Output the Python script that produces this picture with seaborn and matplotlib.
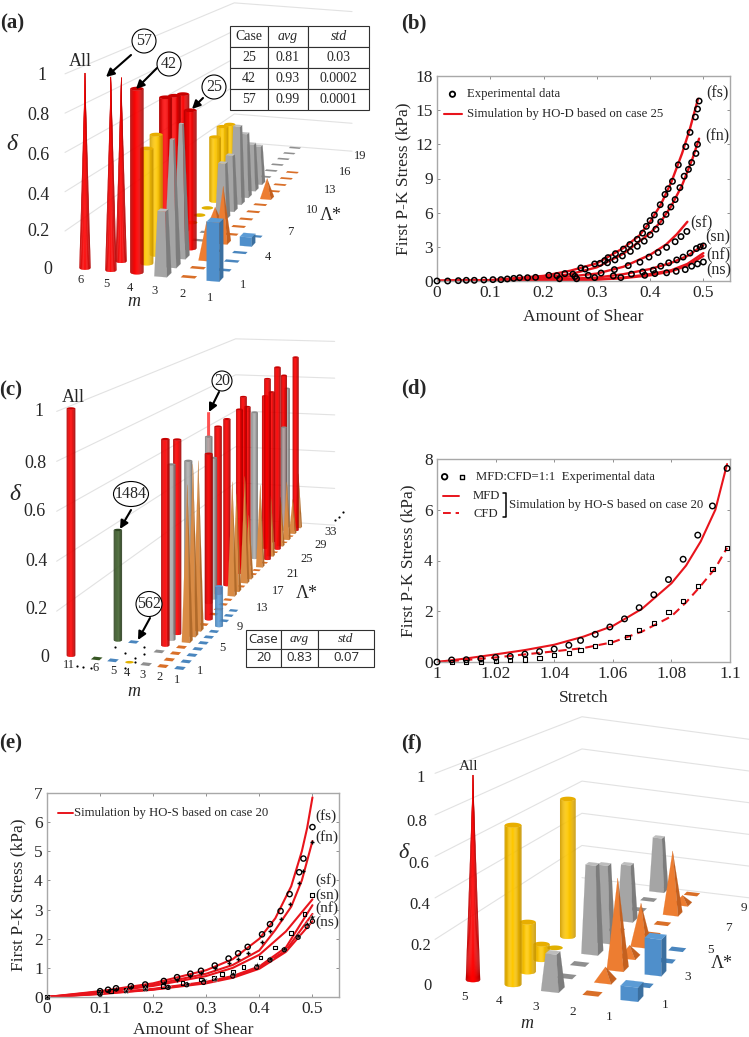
import numpy as np
import pandas as pd
import matplotlib
matplotlib.use('Agg')
import matplotlib.pyplot as plt
from matplotlib.patches import Ellipse
import seaborn as sns

sns.set_theme(style='white')
plt.rcParams['font.family'] = ['Liberation Serif', 'DejaVu Serif']
plt.rcParams['mathtext.fontset'] = 'stix'

W, H = 749, 1037
RED = '#e8141c'

# ---- panel (a) bars: m, lambda, delta, kind
a_m = [6, 5, 5, 4, 4, 4, 4, 4, 4, 4, 4, 4, 4, 4, 4,
       3, 3, 3, 3, 3, 3, 3, 3, 3, 3, 3, 3, 3, 3, 3, 3, 3, 3, 3,
       2, 2, 2, 2, 2, 2, 2, 2, 2, 2, 2, 2, 2, 2, 2, 1, 1, 1, 1, 1, 1]
a_lam = [1, 1, 2, 1, 2, 3, 4, 5, 6, 7, 8, 9, 10, 11, 12,
         1, 2, 3, 4, 5, 6, 7, 8, 9, 10, 11, 12, 13, 14, 15, 16, 17, 18, 19,
         1, 2, 3, 4, 5, 6, 7, 8, 9, 10, 11, 12, 13, 14, 15, 1, 2, 3, 4, 5, 6]
a_delta = [1.0, 0.99, 0.96, 0.94, 0.6, 0.64, 0.81, 0.79, 0.77, 0, 0, 0, 0.39, 0.42, 0.4,
           0.33, 0.66, 0.71, 0.75, 0, 0, 0.1, 0.32, 0.33, 0.47, 0.39, 0.29, 0.24, 0, 0, 0, 0, 0, 0,
           0, 0, 0.2, 0, 0.31, 0, 0, 0, 0, 0, 0.12, 0, 0, 0, 0, 0.3, 0, 0, 0, 0.05, 0]
a_kind = ['rc', 'rc', 'rc', 'r', 'y', 'y', 'r', 'r', 'r', 'y', 'y', 'y', 'y', 'y', 'y',
          'g', 'gs', 'gs', 'r', 'g', 'g', 'o', 'g', 'g', 'g', 'g', 'g', 'g', 'g', 'g', 'g', 'g', 'g', 'g',
          'o', 'o', 'o', 'o', 'o', 'o', 'o', 'o', 'o', 'o', 'o', 'o', 'o', 'o', 'o', 'b', 'b', 'b', 'b', 'b', 'b']

# ---- panel (c) bars
c_m = [7.6, 6, 6, 5, 5, 4,
       3, 3, 3, 3, 3, 3, 3, 3, 3, 3, 3, 3, 3, 3, 3, 3, 3, 3, 3, 3,
       2, 2, 2, 2, 2, 2, 2, 2, 2, 2, 2, 2, 2, 2, 2, 2, 2, 2, 2, 2, 2, 2, 2, 2, 2, 2, 2, 2, 2, 2, 2, 2, 2,
       1, 1, 1, 1, 1, 1, 1, 1, 1, 1, 1]
c_lam = [1, 1, 4, 1, 4, 1,
         1, 3, 4, 5, 6, 8, 12, 12, 13, 14, 16, 19, 20, 21, 23, 26, 28, 32, 32, 33,
         1, 2, 3, 4, 5, 6, 7, 8, 9, 10, 11, 12, 13, 14, 15, 16, 17, 18, 19, 20, 21, 22, 23, 24, 25, 26, 27, 28, 29, 30, 31, 32, 33,
         1, 2, 3, 4, 5, 6, 7, 8, 9, 10, 11]
c_delta = [1.0, 0, 0.46, 0, 0, 0,
           0, 0, 0.85, 0.73, 0.82, 0.7, 0.86, 0.75, 0.64, 0.77, 0.78, 0.79, 0.84, 0.78, 0.73, 0.78, 0.78, 0.83, 0.55, 0.75,
           0, 0, 0, 0, 0.65, 0.72, 0.72, 0, 0.72, 0, 0, 0, 0, 0.52, 0.45, 0, 0.5, 0.3, 0, 0, 0.4, 0, 0.9, 0.3, 0, 0.93, 0.25, 0,
           0.3, 0, 0.18, 0.93, 0.29,
           0, 0, 0, 0, 0, 0, 0, 0.17, 0, 0, 0]
c_kind = ['r', 'k', 'k', 'b', 'b', 'y',
          'g', 'g', 'r', 'gc', 'r', 'gc', 'rt', 'gc', 'gc', 'r', 'r', 'r', 'r', 'r', 'gc', 'r', 'r', 'r', 'gc', 'gc',
          'o', 'o', 'o', 'o', 'o', 'o', 'o', 'o', 'r', 'o', 'o', 'o', 'o', 'o', 'o', 'o', 'o', 'o', 'o', 'o', 'o', 'o', 'r', 'o', 'o', 'r', 'o', 'o',
          'o', 'o', 'o', 'r', 'o',
          'b', 'b', 'b', 'b', 'b', 'b', 'b', 'bc', 'b', 'b', 'b']

# ---- panel (f) bars
f_m = [5, 4, 4, 4, 4, 4, 3, 3, 3, 3, 3, 3, 3, 3, 3, 3, 2, 2, 2, 2, 2, 2, 2, 2, 2, 2, 1, 1, 1, 1, 1]
f_lam = [1, 1, 2, 3, 4, 5, 1, 2, 3, 4, 5, 6, 7, 8, 9, 10, 1, 2, 3, 4, 5, 6, 7, 8, 9, 10, 1, 2, 3, 4, 5]
f_delta = [1.0, 0.78, 0.25, 0.08, 0, 0.75, 0.18, 0, 0, 0.47, 0.42, 0, 0.32, 0, 0, 0.33,
           0, 0.07, 0.47, 0.06, 0.23, 0, 0, 0.37, 0.05, 0, 0.07, 0, 0.19, 0, 0]
f_kind = ['rc', 'y', 'y', 'y', 'y', 'y', 'g', 'g', 'g', 'g', 'g', 'g', 'g', 'g', 'g', 'g',
          'o', 'o', 'o', 'o', 'o', 'o', 'o', 'o', 'o', 'o', 'b', 'b', 'b', 'b', 'b']

# ---- panel (b)
b_fs_x = [0, 0.1, 0.2, 0.25, 0.3, 0.35, 0.38, 0.4, 0.42, 0.44, 0.46, 0.475, 0.49]
b_fs_y = [0, 0.08, 0.45, 0.9, 1.55, 2.9, 4.0, 5.2, 6.7, 8.7, 11.2, 13.4, 16.0]
b_fn_x = [0, 0.1, 0.2, 0.25, 0.3, 0.35, 0.4, 0.42, 0.44, 0.46, 0.48, 0.492]
b_fn_y = [0, 0.05, 0.3, 0.6, 1.2, 2.4, 4.2, 5.2, 6.6, 8.4, 10.8, 12.5]
b_sf_x = [0, 0.1, 0.2, 0.3, 0.35, 0.4, 0.43, 0.45, 0.47]
b_sf_y = [0, 0.03, 0.15, 0.65, 1.25, 2.3, 3.2, 4.1, 5.2]
b_sn_x = [0, 0.2, 0.3, 0.35, 0.4, 0.44, 0.47, 0.5]
b_sn_y = [0, 0.1, 0.3, 0.6, 1.05, 1.6, 2.2, 3.15]
b_nf_x = [0, 0.2, 0.3, 0.35, 0.4, 0.44, 0.47, 0.5]
b_nf_y = [0, 0.05, 0.15, 0.3, 0.6, 0.95, 1.5, 2.45]
b_ns_x = [0, 0.2, 0.3, 0.35, 0.4, 0.44, 0.47, 0.5]
b_ns_y = [0, 0.04, 0.12, 0.25, 0.5, 0.85, 1.35, 2.2]

b_exp_x = [0, 0.02, 0.04, 0.055, 0.07, 0.088, 0.105, 0.12, 0.132, 0.144, 0.155, 0.17, 0.185, 0.21, 0.225, 0.24, 0.255,
           0.296, 0.306, 0.315, 0.321, 0.335, 0.35, 0.362, 0.376, 0.386, 0.393, 0.4, 0.408, 0.419, 0.428, 0.434, 0.442,
           0.453, 0.467, 0.475, 0.485, 0.489, 0.492,
           0.278, 0.27, 0.32, 0.334, 0.348, 0.363, 0.376, 0.389, 0.4, 0.411, 0.42, 0.43, 0.439, 0.447, 0.456, 0.464,
           0.472, 0.478, 0.486, 0.489,
           0.469, 0.458, 0.447, 0.431, 0.415, 0.398, 0.381, 0.359, 0.333, 0.308, 0.284, 0.259,
           0.5, 0.494, 0.487, 0.475, 0.462, 0.45, 0.435, 0.42, 0.406, 0.386, 0.365, 0.331, 0.296, 0.262, 0.23,
           0.5, 0.489, 0.478, 0.466, 0.449, 0.431, 0.409, 0.39, 0.345]
b_exp_y = [0, 0, 0.03, 0.06, 0.06, 0.09, 0.12, 0.12, 0.18, 0.23, 0.29, 0.29, 0.32, 0.5, 0.47, 0.65, 0.6,
           1.5, 1.55, 1.8, 2.05, 2.4, 2.8, 3.2, 3.66, 4.2, 4.8, 5.3, 5.8, 6.7, 7.6, 8.1, 8.75,
           10.2, 11.8, 13.05, 14.4, 15.1, 15.8,
           1.05, 1.15, 1.6, 1.85, 2.2, 2.6, 3.05, 3.5, 4.05, 4.55, 5.2, 5.85, 6.5, 7.15, 8.2, 9.2,
           9.8, 10.4, 11.2, 12.0,
           4.35, 3.9, 3.45, 2.95, 2.5, 2.1, 1.65, 1.35, 1.0, 0.7, 0.5, 0.4,
           3.08, 3.0, 2.85, 2.45, 2.1, 1.85, 1.6, 1.3, 0.95, 0.8, 0.6, 0.45, 0.3, 0.2, 0.2,
           1.67, 1.5, 1.3, 1.0, 0.85, 0.72, 0.65, 0.5, 0.3]

# ---- panel (d)
d_mfd_x = [1, 1.01, 1.02, 1.03, 1.04, 1.05, 1.06, 1.07, 1.08, 1.085, 1.09, 1.095, 1.099]
d_mfd_y = [0, 0.14, 0.3, 0.47, 0.68, 1.0, 1.42, 2.1, 3.1, 3.8, 4.75, 6.0, 7.8]
d_cfd_x = [1, 1.01, 1.02, 1.03, 1.04, 1.05, 1.06, 1.07, 1.08, 1.085, 1.09, 1.095, 1.099]
d_cfd_y = [0, 0.08, 0.18, 0.3, 0.42, 0.55, 0.78, 1.2, 1.8, 2.35, 3.0, 3.7, 4.5]
d_mexp_x = [1, 1.005, 1.01, 1.015, 1.02, 1.025, 1.03, 1.035, 1.04, 1.045, 1.049, 1.054, 1.059, 1.064, 1.069,
            1.074, 1.079, 1.084, 1.089, 1.094, 1.099]
d_mexp_y = [0, 0.08, 0.09, 0.13, 0.18, 0.22, 0.31, 0.41, 0.51, 0.66, 0.85, 1.09, 1.38, 1.7, 2.14,
            2.65, 3.25, 4.05, 5.0, 6.15, 7.63]
d_cexp_x = [1.005, 1.01, 1.015, 1.02, 1.025, 1.03, 1.035, 1.04, 1.045, 1.049, 1.054, 1.059, 1.065, 1.069,
            1.074, 1.079, 1.084, 1.089, 1.094, 1.099]
d_cexp_y = [0, 0, 0, 0.05, 0.07, 0.1, 0.15, 0.26, 0.35, 0.48, 0.62, 0.8, 1.0, 1.26,
            1.55, 1.98, 2.42, 2.98, 3.65, 4.48]

# ---- panel (e)
e_fs_x = [0, 0.1, 0.2, 0.3, 0.35, 0.4, 0.43, 0.46, 0.48, 0.49, 0.5]
e_fs_y = [0, 0.2, 0.47, 0.92, 1.3, 2.0, 2.7, 3.8, 5.0, 5.8, 6.85]
e_fn_x = [0, 0.1, 0.2, 0.3, 0.35, 0.4, 0.43, 0.46, 0.48, 0.5]
e_fn_y = [0, 0.18, 0.42, 0.8, 1.1, 1.6, 2.3, 3.1, 4.0, 5.35]
e_sf_x = [0, 0.1, 0.2, 0.3, 0.35, 0.4, 0.45, 0.5]
e_sf_y = [0, 0.15, 0.38, 0.72, 1.0, 1.45, 2.25, 3.35]
e_sn_x = [0, 0.1, 0.2, 0.3, 0.35, 0.4, 0.45, 0.5]
e_sn_y = [0, 0.12, 0.28, 0.52, 0.72, 1.05, 1.7, 3.15]
e_nf_x = [0, 0.1, 0.2, 0.3, 0.35, 0.4, 0.45, 0.5]
e_nf_y = [0, 0.11, 0.26, 0.5, 0.7, 1.02, 1.6, 2.85]
e_ns_x = [0, 0.1, 0.2, 0.3, 0.35, 0.4, 0.45, 0.5]
e_ns_y = [0, 0.1, 0.25, 0.47, 0.66, 0.97, 1.55, 2.6]

e_c_x = [0.1, 0.115, 0.13, 0.158, 0.185, 0.22, 0.245, 0.27, 0.29, 0.316, 0.342, 0.36, 0.378, 0.405, 0.42, 0.44,
         0.457, 0.475, 0.483, 0.5]
e_c_y = [0.2, 0.25, 0.3, 0.37, 0.43, 0.55, 0.68, 0.8, 0.9, 1.08, 1.32, 1.5, 1.72, 2.15, 2.5, 2.95,
         3.53, 4.28, 4.75, 5.83]
e_p_y = [0.17, 0.2, 0.26, 0.33, 0.38, 0.47, 0.6, 0.72, 0.83, 0.98, 1.18, 1.3, 1.5, 1.9, 2.25, 2.68,
         3.2, 3.9, 4.33, 5.33]
e_s_x = [0, 0.097, 0.12, 0.148, 0.185, 0.218, 0.255, 0.29, 0.315, 0.33, 0.35, 0.37, 0.402, 0.43, 0.46, 0.485, 0.499]
e_s_y = [0, 0.17, 0.2, 0.24, 0.3, 0.37, 0.47, 0.6, 0.65, 0.78, 0.85, 1.03, 1.35, 1.7, 2.2, 2.85, 3.5]
e_t_x = [0, 0.1, 0.148, 0.185, 0.228, 0.263, 0.295, 0.316, 0.35, 0.395, 0.42, 0.447, 0.473, 0.49, 0.5]
e_t_y = [0, 0.12, 0.22, 0.28, 0.35, 0.45, 0.57, 0.62, 0.8, 1.1, 1.3, 1.65, 2.1, 2.5, 2.75]
e_o_x = [0.5, 0.49, 0.473, 0.447, 0.42, 0.395, 0.35, 0.295, 0.263, 0.228, 0.1]
e_o_y = [2.6, 2.42, 2.05, 1.62, 1.27, 1.02, 0.72, 0.5, 0.42, 0.33, 0.1]

fig = plt.figure(figsize=(W / 100, H / 100), dpi=100)


def axes_px(l, t, r, b):
    return fig.add_axes([l / W, 1 - b / H, (r - l) / W, (b - t) / H])


def style_2d(ax, xlim, ylim, xt, yt, xl, yl, ylab_x, xpad=5.5):
    ax.set_xlim(xlim)
    ax.set_ylim(ylim)
    ax.set_xticks(xt)
    ax.set_yticks(yt)
    ax.set_xticklabels([f'{v:g}' for v in xt])
    ax.set_yticklabels([f'{v:g}' for v in yt])
    ax.tick_params(direction='in', length=2.5, width=0.7, color='#909090', labelsize=12.5, pad=3, top=True, right=True,
                   bottom=True, left=True)
    for s in ax.spines.values():
        s.set_color('#a8a8a8')
        s.set_linewidth(1.0)
    ax.set_xlabel(xl, fontsize=12.6, labelpad=xpad)
    ax.set_ylabel(yl, fontsize=12.5)
    ax.yaxis.set_label_coords(ylab_x, 0.5)


def curve(ax, x, y, ls='-', lw=1.5):
    sns.lineplot(x=x, y=y, ax=ax, color=RED, lw=lw, ls=ls, estimator=None, sort=False, errorbar=None)


def points(ax, x, y, marker='o', s=14, filled=False, lw=1.0):
    if filled or marker in ['+', 'x']:
        sns.scatterplot(x=x, y=y, ax=ax, marker=marker, s=s, color='black', linewidth=lw, zorder=3, clip_on=False)
    else:
        sns.scatterplot(x=x, y=y, ax=ax, marker=marker, s=s, facecolor='none', edgecolor='black', linewidth=lw,
                        zorder=3, clip_on=False)


# panel b
ax_b = axes_px(437, 76, 730, 281)
for cx, cy in [(b_fs_x, b_fs_y), (b_fn_x, b_fn_y), (b_sf_x, b_sf_y), (b_sn_x, b_sn_y), (b_nf_x, b_nf_y), (b_ns_x, b_ns_y)]:
    curve(ax_b, cx, cy, lw=1.7)
points(ax_b, b_exp_x, b_exp_y, s=15, lw=1.1)
points(ax_b, [0.029], [16.4], s=15, lw=1.3)
ax_b.plot([0.014, 0.046], [14.7, 14.7], color=RED, lw=1.5)
ax_b.text(0.057, 16.4, 'Experimental data', fontsize=9.2, va='center')
ax_b.text(0.057, 14.7, 'Simulation by HO-D based on case 25', fontsize=9.2, va='center')
for t, x, y in [('(fs)', 0.506, 16.5), ('(fn)', 0.503, 12.7), ('(sf)', 0.475, 5.1), ('(sn)', 0.503, 3.87),
                ('(nf)', 0.505, 2.26), ('(ns)', 0.505, 0.94)]:
    ax_b.text(x, y, t, fontsize=11.5, va='center')
style_2d(ax_b, (0, 0.55), (0, 18), [0, 0.1, 0.2, 0.3, 0.4, 0.5], [0, 3, 6, 9, 12, 15, 18], 'Amount of Shear',
         'First P-K Stress (kPa)', -0.089)

# panel d
ax_d = axes_px(437, 459, 730, 662)
curve(ax_d, d_mfd_x, d_mfd_y, lw=1.5)
curve(ax_d, d_cfd_x, d_cfd_y, ls=(0, (4, 2.5)), lw=1.5)
points(ax_d, d_mexp_x, d_mexp_y, s=16, lw=1.0)
points(ax_d, d_cexp_x, d_cexp_y, marker='s', s=9, lw=0.8)
points(ax_d, [1.0026], [7.3], s=16, lw=1.3)
points(ax_d, [1.0085], [7.3], marker='s', s=9, lw=1.0)
ax_d.text(1.0134, 7.3, 'MFD:CFD=1:1  Experimental data', fontsize=9.2, va='center')
ax_d.plot([1.002, 1.0075], [6.53, 6.53], color=RED, lw=1.4)
ax_d.plot([1.002, 1.0075], [5.86, 5.86], color=RED, lw=1.4, ls=(0, (4, 2.5)))
ax_d.text(1.0123, 6.53, 'MFD', fontsize=9.2, va='center')
ax_d.text(1.0123, 5.84, 'CFD', fontsize=9.2, va='center')
ax_d.plot([1.0225, 1.0236, 1.0236, 1.0225], [6.65, 6.65, 5.73, 5.73], color='black', lw=1.1)
ax_d.text(1.0246, 6.19, 'Simulation by HO-S based on case 20', fontsize=9.2, va='center')
style_2d(ax_d, (1, 1.1), (0, 8), [1, 1.02, 1.04, 1.06, 1.08, 1.1], [0, 2, 4, 6, 8], 'Stretch',
         'First P-K Stress (kPa)', -0.072)

# panel e
ax_e = axes_px(47, 793, 339, 997)
for cx, cy in [(e_fs_x, e_fs_y), (e_fn_x, e_fn_y), (e_sf_x, e_sf_y), (e_sn_x, e_sn_y), (e_nf_x, e_nf_y), (e_ns_x, e_ns_y)]:
    curve(ax_e, cx, cy, lw=1.5)
points(ax_e, e_c_x, e_c_y, s=14, lw=1.0)
points(ax_e, e_c_x, e_p_y, marker='+', s=12, lw=1.0)
points(ax_e, e_s_x, e_s_y, marker='s', s=7, lw=0.8)
points(ax_e, e_t_x, e_t_y, marker='*', s=22, filled=True, lw=0.2)
points(ax_e, e_o_x, e_o_y, s=9, lw=0.8)
ax_e.plot([0.02, 0.049], [6.32, 6.32], color=RED, lw=1.4)
ax_e.text(0.051, 6.32, 'Simulation by HO-S based on case 20', fontsize=9.2, va='center')
for t, x, y in [('(fs)', 0.506, 6.22), ('(fn)', 0.506, 5.5), ('(sf)', 0.506, 4.02), ('(sn)', 0.506, 3.5),
                ('(nf)', 0.506, 3.04), ('(ns)', 0.506, 2.58)]:
    ax_e.text(x, y, t, fontsize=11, va='center')
style_2d(ax_e, (0, 0.55), (0, 7), [0, 0.1, 0.2, 0.3, 0.4, 0.5], [0, 1, 2, 3, 4, 5, 6, 7], 'Amount of Shear',
         'First P-K Stress (kPa)', -0.069, xpad=3.5)

# overlay in pixels for the three perspective charts
ov = fig.add_axes([0, 0, 1, 1], zorder=5)
ov.set_xlim(0, W)
ov.set_ylim(H, 0)
ov.axis('off')
ov.patch.set_alpha(0)


def make_proj(src, dst, h_front, h_back):
    rows, rhs = [], []
    for (u, v), (x, y) in zip(src, dst):
        rows.append([u, v, 1, 0, 0, 0, -u * x, -v * x])
        rows.append([0, 0, 0, u, v, 1, -u * y, -v * y])
        rhs += [x, y]
    a, b, c, d, e, f, g, h = np.linalg.solve(np.array(rows, float), np.array(rhs, float))
    w0 = g * src[0][0] + h * src[0][1] + 1
    wb = g * src[2][0] + h * src[2][1] + 1
    sb = w0 / wb

    def scale(m, lam):
        return w0 / (g * m + h * lam + 1)

    def proj(m, lam, dz=0.0):
        w = g * m + h * lam + 1
        x = (a * m + b * lam + c) / w
        y = (d * m + e * lam + f) / w
        hh = h_back + (h_front - h_back) * (scale(m, lam) - sb) / (1 - sb)
        return x, y - dz * hh

    proj.scale = scale
    return proj


PAL = {'r': ('#ff0000', '#a00000', '#c80000'), 'rc': ('#ff0000', '#b00000', '#c80000'), 'rt': ('#ff5050', '#ff5050', '#ff5050'),
       'y': ('#ffc800', '#c89600', '#e8ae00'), 'k': ('#40602c', '#25381a', '#2e4522'),
       'gc': ('#b0b0b0', '#6e6e6e', '#8a8a8a'), 'bc': ('#5b9bd5', '#3f75a8', '#5b9bd5')}
FLAT = {'g': ('#a5a5a5', '#7c7c7c', '#bdbdbd'), 'gs': ('#a5a5a5', '#7c7c7c', '#bdbdbd'),
        'o': ('#ed7d31', '#c4601f', '#ed7d31'), 'b': ('#4f8fcb', '#3b6f9f', '#5b9bd5')}
PAD = {'r': '#c00000', 'rc': '#c00000', 'rt': '#c00000', 'y': '#e0b000', 'k': '#375623', 'g': '#8f8f8f', 'gs': '#8f8f8f',
       'gc': '#8f8f8f', 'o': '#d96f28', 'b': '#4a86be', 'bc': '#4a86be'}


def body_round(x0, y0, x1, y1, r0, r1, kind, top=True):
    light, dark, lid = PAL[kind]
    light = np.array(matplotlib.colors.to_rgb(light))
    dark = np.array(matplotlib.colors.to_rgb(dark))
    ts = np.linspace(-1, 1, 15)
    for t0, t1 in zip(ts[:-1], ts[1:]):
        tm = (t0 + t1) / 2
        mix = np.clip(1 - abs(tm + 0.05) ** 1.7, 0, 1)
        col = dark + (light - dark) * mix
        low = lambda t: y0 + 0.3 * r0 * np.sqrt(max(1 - t * t, 0))
        up = lambda t: y1 + 0.3 * r1 * np.sqrt(max(1 - t * t, 0))
        ov.fill([x0 + t0 * r0, x0 + t1 * r0, x1 + t1 * r1, x1 + t0 * r1], [low(t0), low(t1), up(t1), up(t0)],
                color=col, lw=0.15)
    if top and r1 > 0:
        th = np.linspace(0, 2 * np.pi, 30)
        ov.fill(x1 + r1 * np.cos(th), y1 + 0.3 * r1 * np.sin(th), color=lid, lw=0)


def body_square(proj, m, lam, d, r, taper, kind):
    front, side, lid = FLAT[kind]
    s = [(m + r, lam - r), (m - r, lam - r), (m - r, lam + r), (m + r, lam + r)]
    base = [proj(a, b) for a, b in s]
    tops = [proj(m + (a - m) * taper, lam + (b - lam) * taper, d) for a, b in s]
    for i, col in [(0, front), (1, side)]:
        ov.fill([base[i][0], base[i + 1][0], tops[i + 1][0], tops[i][0]],
                [base[i][1], base[i + 1][1], tops[i + 1][1], tops[i][1]], color=col, lw=0.1)
    if taper > 0:
        ov.fill([p[0] for p in tops], [p[1] for p in tops], color=lid, lw=0.1)


def draw_bars(proj, ms, lams, ds, kinds, cyl_r, sq_r, pad_m, pad_l):
    order = sorted(range(len(ms)), key=lambda i: proj(ms[i], lams[i])[1])
    for i in order:
        m, lam, d, k = ms[i], lams[i], ds[i], kinds[i]
        s = proj.scale(m, lam)
        if d == 0:
            if k == 'y':
                x, y = proj(m, lam)
                th = np.linspace(0, 2 * np.pi, 24)
                ov.fill(x + cyl_r * s * np.cos(th), y + 0.3 * cyl_r * s * np.sin(th), color=PAD[k], lw=0)
            else:
                pts = [proj(m + pad_m, lam - pad_l), proj(m - pad_m, lam - pad_l), proj(m - pad_m, lam + pad_l),
                       proj(m + pad_m, lam + pad_l)]
                ov.fill([p[0] for p in pts], [p[1] for p in pts], color=PAD[k], lw=0)
            continue
        x0, y0 = proj(m, lam)
        x1, y1 = proj(m, lam, d)
        if k == 'rc':
            body_round(x0, y0, x1, y1, cyl_r * s * 0.85, 0, k)
        elif k == 'rt':
            body_round(x0, y0, x1, y1, cyl_r * s * 0.35, cyl_r * s * 0.35, k, top=False)
        elif k in PAL:
            body_round(x0, y0, x1, y1, cyl_r * s, cyl_r * s, k)
        elif k == 'g':
            body_square(proj, m, lam, d, sq_r, 0.62, k)
        elif k == 'gs':
            body_square(proj, m, lam, d, sq_r, 0.3, k)
        elif k == 'o':
            body_square(proj, m, lam, d, sq_r, 0.0, k)
        else:
            body_square(proj, m, lam, d, sq_r, 1.0, k)


def walls(proj, m_front, lam_front, m_back, lam_back, m_right):
    for d in [0.2, 0.4, 0.6, 0.8, 1.0, 0.0]:
        pts = [proj(m_front, lam_front, d), proj(m_back, lam_back, d), proj(m_right, lam_back, d)]
        if d == 0:
            pts = pts[1:]
        ov.plot([p[0] for p in pts], [p[1] for p in pts], color='#e2e2e2', lw=0.8, zorder=0)


def txt(items, size, **kw):
    for t, x, y in items:
        ov.text(x, y, t, fontsize=size, ha='center', va='center', **kw)


def callout(t, cx, cy, w, h, ax_, ay_, bx, by):
    ov.add_patch(Ellipse((cx, cy), w, h, fc='white', ec='black', lw=0.8, zorder=20))
    ov.text(cx, cy, t, fontsize=11.5, ha='center', va='center', zorder=21)
    ov.annotate('', xy=(bx, by), xytext=(ax_, ay_), zorder=19,
                arrowprops=dict(arrowstyle='-|>,head_width=0.2,head_length=0.4', color='black', lw=1.5, shrinkA=0, shrinkB=0))


def table(rows, x, y, fonts, size, lw):
    x = np.array(x, float)
    y = np.array(y, float)
    tb = ov.table(cellText=rows, bbox=[x[0] / W, 1 - y[-1] / H, (x[-1] - x[0]) / W, (y[-1] - y[0]) / H],
                  colWidths=list(np.diff(x) / (x[-1] - x[0])), cellLoc='center', zorder=15)
    tb.auto_set_font_size(False)
    tb.set_fontsize(size)
    for (r, c), cell in tb.get_celld().items():
        cell.set_linewidth(lw)
        cell.set_edgecolor('#303030')
        cell.get_text().set_family(fonts)
        if r == 0 and c > 0:
            cell.get_text().set_style('italic')
            cell.get_text().set_family('Liberation Serif')


# panel a
proj_a = make_proj([(6, 1), (1, 1), (1, 19), (6, 19)], [(85, 268), (215, 279), (335, 151), (235, 143)], 195, 140)
walls(proj_a, 6.6, 0.6, 6.1, 19.2, 0.2)
draw_bars(proj_a, a_m, a_lam, a_delta, a_kind, 6.6, 0.24, 0.27, 0.13)
txt([('6', 81, 280), ('5', 106, 284), ('4', 130, 288), ('3', 155, 291), ('2', 183, 294), ('1', 210, 298),
     ('1', 243, 285), ('4', 268, 257), ('7', 290, 232), ('10', 312, 210), ('13', 330, 190), ('16', 345, 172), ('19', 360, 156)], 9)
txt([('1', 42, 75), ('0.8', 38, 115), ('0.6', 38, 155), ('0.4', 38, 195), ('0.2', 38, 232), ('0', 48, 270), ('All', 80, 62)], 13)
txt([('δ', 12, 144)], 17, style='italic')
txt([('m', 134, 301)], 13, style='italic')
txt([('Λ*', 331, 216)], 13)
callout('57', 144, 41, 24, 24, 131, 55, 106, 77)
callout('42', 169, 64, 24, 24, 157, 68, 136, 89)
callout('25', 214, 87, 24, 24, 203, 98, 192, 109)
table([['Case', 'avg', 'std'], ['25', '0.81', '0.03'], ['42', '0.93', '0.0002'], ['57', '0.99', '0.0001']],
      [230, 268, 308, 369], [26, 47, 68, 89, 110], 'Liberation Serif', 10, 0.8)

# panel c, its orange is paler than in a and f
proj_c = make_proj([(7.6, 1), (1, 1), (1, 33), (7.6, 33)],
                   [(71, 655.5), (180, 668), (310, 528), (235, 523)], 247, 185)
walls(proj_c, 8.0, 0.0, 8.0, 34.5, -0.8)
orange = FLAT['o']
FLAT['o'] = ('#d98b45', '#b06a2a', '#d98b45')
draw_bars(proj_c, c_m, c_lam, c_delta, c_kind, 4.2, 0.25, 0.26, 0.22)
FLAT['o'] = orange
txt([('11', 69, 665), ('6', 96, 668), ('5', 113, 671), ('4', 127, 673), ('3', 143, 675), ('2', 160, 677), ('1', 177, 680),
     ('1', 200, 671), ('5', 222, 648), ('9', 240, 627), ('13', 262, 608), ('17', 278, 591), ('21', 293, 574),
     ('25', 307, 559), ('29', 321, 545), ('33', 331, 532)], 9)
txt([('1', 39, 411), ('0.8', 35, 463), ('0.6', 35, 512), ('0.4', 36, 561), ('0.2', 37, 610), ('0', 45, 657), ('All', 73, 398)], 13)
txt([('δ', 15, 494)], 17, style='italic')
txt([('m', 134, 691)], 13, style='italic')
txt([('Λ*', 307, 593)], 13)
ov.scatter([77, 83, 91, 115, 125, 135, 144, 125, 135, 144, 335, 339, 343],
           [666, 667, 668, 647, 653, 658, 647, 668, 662, 654, 520, 517, 512], s=2.5, color='black', linewidths=0)
callout('20', 222, 381, 20, 20, 219, 392, 209, 412)
callout('1484', 131, 494, 35, 25, 131, 510, 120, 529)
callout('562', 149, 604, 26, 25, 150, 618, 138, 640)
table([['Case', 'avg', 'std'], ['20', '0.83', '0.07']], [246, 281, 318, 374], [630, 649, 667], 'Open Sans', 9.5, 0.8)

# panel f
proj_f = make_proj([(5, 1), (1, 1), (1, 10), (5, 10)],
                   [(473, 980), (632, 998), (725, 898), (592, 882)], 205, 160)
walls(proj_f, 5.8, 0.65, 5.4, 10.3, -0.4)
draw_bars(proj_f, f_m, f_lam, f_delta, f_kind, 8.4, 0.22, 0.2, 0.17)
txt([('5', 464, 997), ('4', 499, 1001), ('3', 536, 1007), ('2', 573, 1012), ('1', 609, 1017),
     ('1', 665, 1005), ('3', 688, 977), ('5', 710, 950), ('7', 728, 928), ('9', 744, 908)], 9.5)
txt([('1', 421, 778), ('0.8', 417, 822), ('0.6', 419, 864), ('0.4', 420, 905), ('0.2', 421, 946), ('0', 428, 986)], 12)
txt([('All', 469, 766)], 11)
txt([('δ', 404, 854)], 16, style='italic')
txt([('m', 527, 1024)], 13, style='italic')
txt([('Λ*', 722, 964)], 13)

for t, x, y in [('(a)', 12, 23), ('(b)', 414, 23), ('(c)', 11, 390), ('(d)', 414, 388), ('(e)', 11, 743), ('(f)', 411, 743)]:
    ov.text(x, y, t, fontsize=15, fontweight='bold', ha='center', va='center')

fig.savefig('out.png', dpi=100)
